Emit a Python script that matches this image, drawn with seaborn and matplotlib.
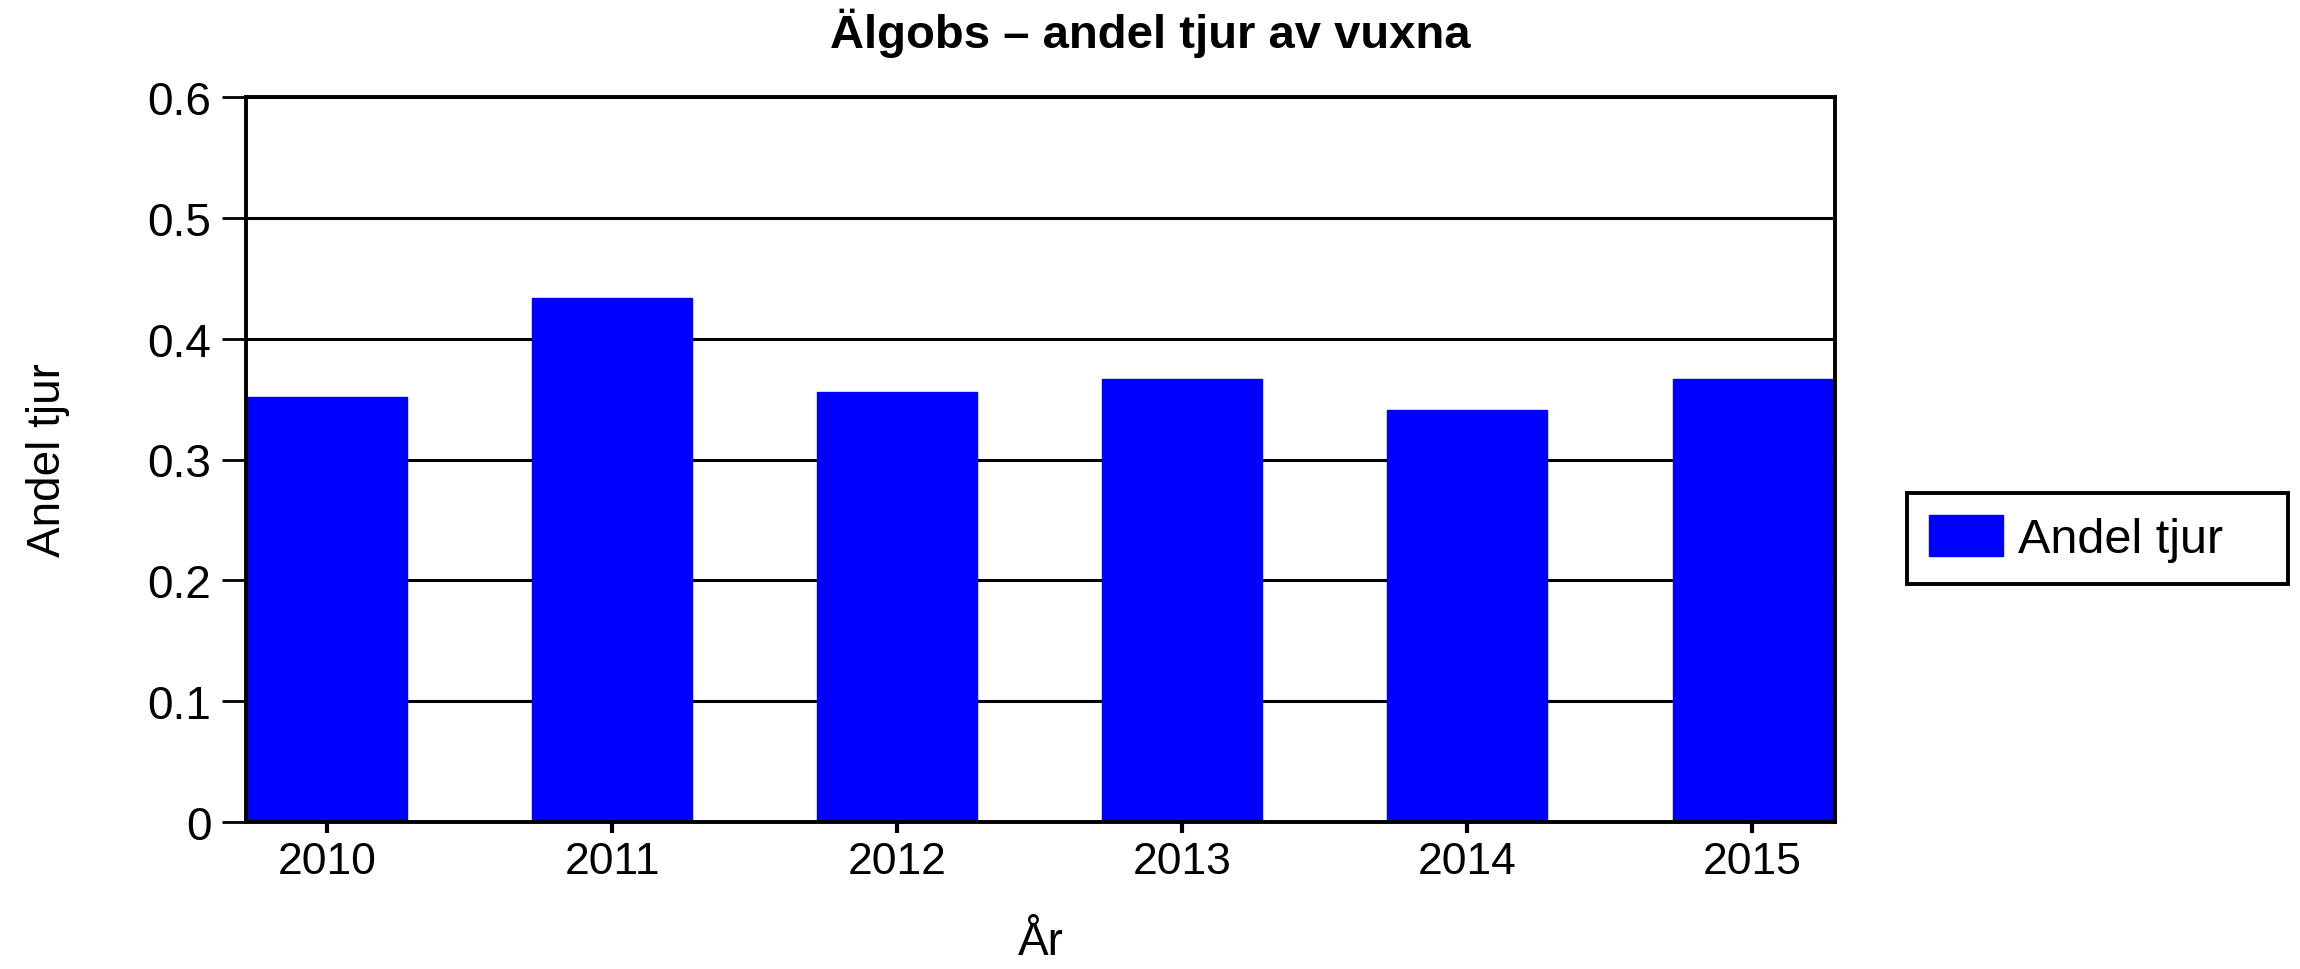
import matplotlib
matplotlib.use("Agg")
import numpy as np
import seaborn as sns
from matplotlib import pyplot as plt
from matplotlib.ticker import FixedLocator, FuncFormatter

years = ["2010", "2011", "2012", "2013", "2014", "2015"]
andel_tjur = [0.352, 0.434, 0.356, 0.367, 0.341, 0.367]
y_ticks = [0, 0.1, 0.2, 0.3, 0.4, 0.5, 0.6]

title = "Älgobs – andel tjur av vuxna"
series_name = "Andel tjur"

sns.set_style("white")
plt.rcParams["font.family"] = ["Liberation Sans", "DejaVu Sans"]
plt.rcParams["text.color"] = "black"
plt.rcParams["axes.labelcolor"] = "black"
plt.rcParams["xtick.color"] = "black"
plt.rcParams["ytick.color"] = "black"

fig = plt.figure(figsize=(23, 9.7), dpi=100)
ax = fig.add_axes([246 / 2300, 1 - 823 / 970, (1835 - 246) / 2300, (823 - 98) / 970])

sns.barplot(
    x=years,
    y=andel_tjur,
    color="#0000ff",
    saturation=1,
    width=0.56,
    edgecolor="#0000ff",
    label=series_name,
    ax=ax,
)
for bar in ax.patches:
    bar.set_zorder(3)

ax.set_xlim(-0.284, 5.29)
ax.set_ylim(0, 0.6)
ax.yaxis.set_major_locator(FixedLocator(y_ticks))
ax.yaxis.set_major_formatter(FuncFormatter(lambda v, _: f"{v:g}"))

ax.grid(axis="y", color="black", linewidth=2.2, zorder=1)
ax.grid(axis="x", visible=False)
ax.set_axisbelow(True)
for side in ["left", "right", "bottom", "top"]:
    ax.spines[side].set_visible(True)
    ax.spines[side].set_color("black")
    ax.spines[side].set_linewidth(2.8)
    ax.spines[side].set_zorder(4)

ax.tick_params(axis="y", direction="out", length=17, width=2, pad=8,
               labelsize=33, colors="black", left=True)
ax.tick_params(axis="x", direction="out", length=8, width=3, pad=6,
               labelsize=32, colors="black", bottom=True)

ax.set_xlabel("År", fontsize=33, color="black")
ax.set_ylabel("Andel tjur", fontsize=33, color="black")
ax.xaxis.set_label_coords(0.5, -0.135)
ax.yaxis.set_label_coords(-0.111, 0.5)

fig.suptitle(title, x=0.5, y=1 - 9 / 970, va="top", fontsize=34,
             fontweight="bold", color="black")

leg = ax.legend(
    loc="center left",
    bbox_to_anchor=(1907 / 2300, 1 - 591 / 970, (2288 - 1907) / 2300, 103 / 970),
    bbox_transform=fig.transFigure,
    mode="expand",
    fontsize=35,
    handlelength=1.52,
    handleheight=0.94,
    handletextpad=0.32,
    borderpad=0.45,
    borderaxespad=0,
    fancybox=False,
    framealpha=1,
    edgecolor="black",
)
leg.get_frame().set_linewidth(2.8)
leg.set_zorder(5)
for txt in leg.get_texts():
    txt.set_color("black")

plt.savefig("out.png", dpi=100)
plt.close()
